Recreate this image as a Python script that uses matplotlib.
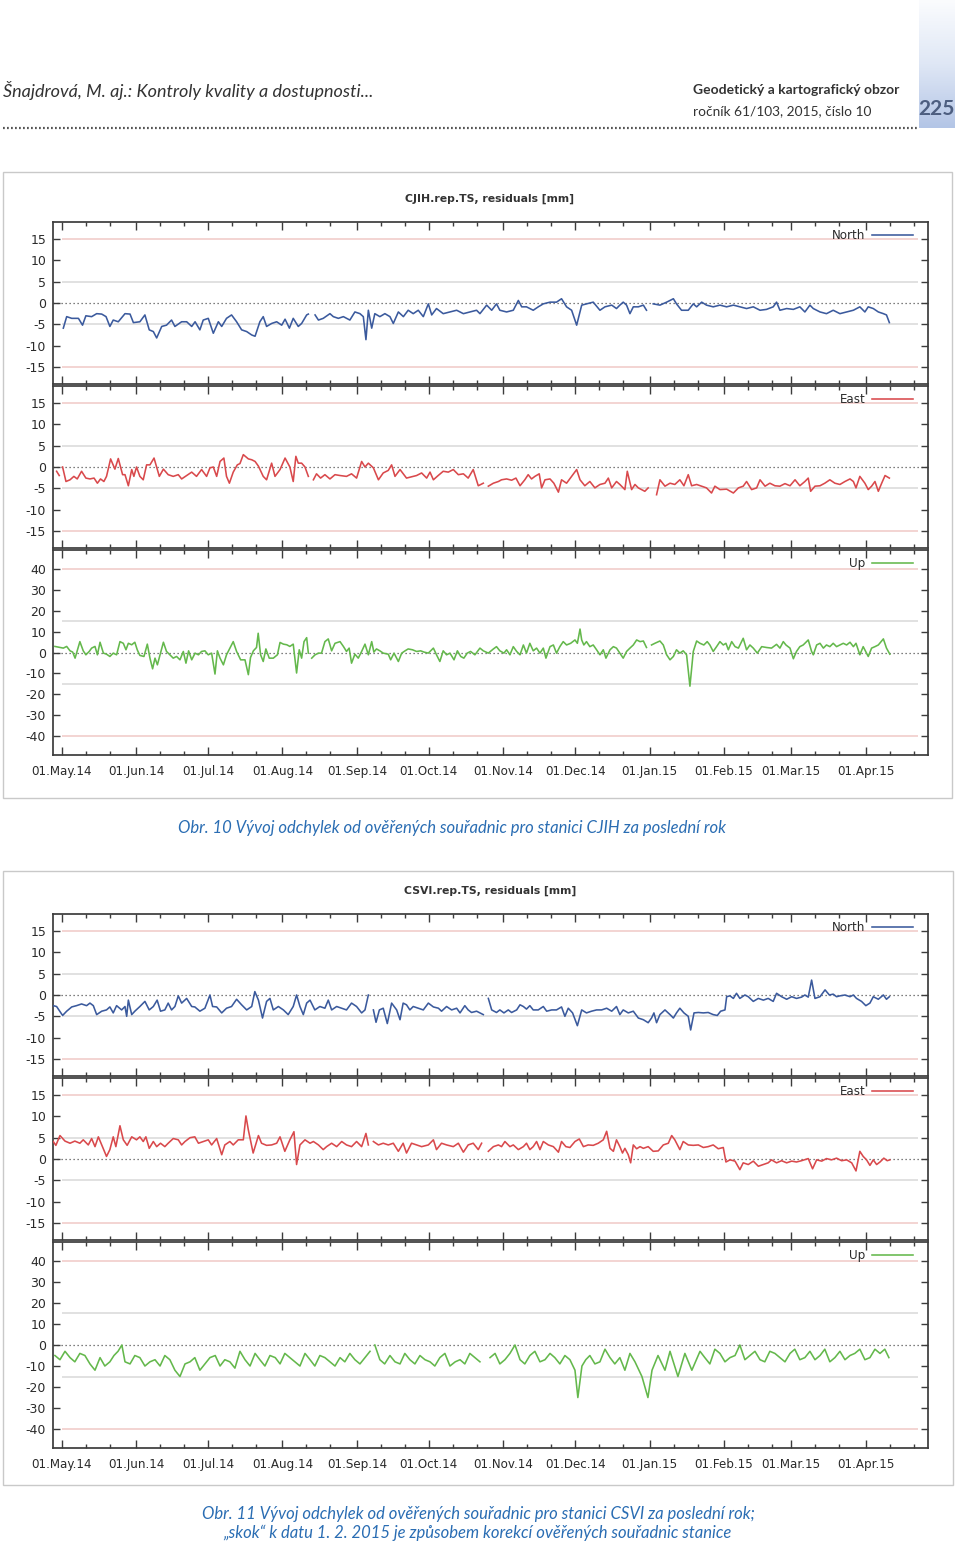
import numpy as np
import matplotlib
matplotlib.use("Agg")
import matplotlib.pyplot as plt
from matplotlib.patches import Rectangle
from matplotlib.lines import Line2D
from datetime import date

plt.rcParams["font.family"] = ["DejaVu Sans"]
plt.rcParams["axes.unicode_minus"] = False
nan = np.nan

# ---------------- data (day offset from 01.May.2014, residual in mm) ----------------
month_labels = ["01.May.14", "01.Jun.14", "01.Jul.14", "01.Aug.14", "01.Sep.14", "01.Oct.14",
                "01.Nov.14", "01.Dec.14", "01.Jan.15", "01.Feb.15", "01.Mar.15", "01.Apr.15"]

cjih_n_day = [0.7, 2.1, 4.2, 7.0, 8.7, 10.1, 12.5, 14.6, 16.7, 18.5,
              20.1, 21.5, 23.6, 26.4, 28.5, 29.9, 32.6, 34.7, 36.5, 38.2,
              39.6, 41.7, 43.7, 45.8, 47.2, 50.0, 52.1, 54.2, 55.6, 57.6,
              59.0, 61.1, 63.2, 65.3, 66.7, 68.7, 70.8, 72.9, 75.0, 77.1,
              79.2, 80.6, 82.6, 84.0, 85.4, 87.5, 89.6, 91.7, 93.1, 94.9,
              96.5, 98.6, 100.0, 102.1, 102.8, 104.2, 105.6, 107.0, 109.0, 111.8,
              113.2, 115.3, 117.4, 120.1, 122.2, 124.3, 125.7, 126.8, 127.8, 129.2,
              130.5, 132.6, 134.7, 136.8, 138.2, 140.3, 142.4, 144.4, 146.5, 148.6,
              150.7, 152.8, 154.2, 156.2, 159.0, 161.8, 164.6, 167.4, 170.1, 172.9,
              174.3, 177.1, 179.2, 181.2, 182.6, 185.4, 188.2, 190.3, 191.7, 193.7,
              196.5, 198.6, 200.7, 203.5, 206.2, 208.3, 210.4, 212.5, 214.6, 216.7,
              218.7, 221.5, 224.3, 226.4, 229.2, 231.2, 232.6, 234.0, 235.4, 236.8,
              238.2, 240.3, 242.4, 243.7, 245.0, 246.5, 249.3, 252.1, 254.9, 256.2,
              258.3, 261.1, 263.2, 264.6, 266.7, 268.7, 271.5, 274.3, 277.1, 279.9,
              282.6, 285.4, 288.2, 291.0, 293.7, 296.5, 297.9, 299.3, 302.1, 304.9,
              307.6, 309.7, 311.8, 313.2, 316.0, 318.7, 321.5, 324.3, 327.1, 329.9,
              332.6, 334.7, 336.1, 338.2, 340.3, 342.4, 343.7, 344.9]
cjih_n_val = [-5.9, -3.2, -3.6, -3.6, -5.2, -3.0, -3.2, -2.5, -2.6, -3.2,
              -5.5, -4.0, -4.4, -2.5, -2.6, -4.6, -4.4, -2.8, -6.3, -6.7,
              -8.2, -5.5, -5.2, -4.0, -5.5, -4.4, -4.4, -5.5, -4.4, -6.3,
              -4.0, -3.6, -7.1, -4.4, -5.5, -3.6, -2.8, -4.4, -6.3, -6.7,
              -7.5, -7.8, -4.4, -3.2, -5.5, -4.8, -4.4, -5.2, -3.8, -5.9,
              -3.6, -5.5, -4.8, -2.8, -2.6, nan, -2.8, -4.0, -3.6, -2.5,
              -3.2, -3.6, -3.2, -4.0, -2.1, -2.5, -3.2, -8.6, -1.7, -5.9,
              -2.5, -3.2, -2.5, -3.2, -4.8, -2.1, -3.2, -1.7, -2.5, -1.7,
              -3.2, -0.2, -2.8, -1.3, -2.5, -2.1, -1.7, -2.5, -2.1, -1.7,
              -2.5, -0.5, -1.7, -0.2, -1.7, -2.1, -1.7, 0.6, -0.9, -0.9,
              -1.7, -0.9, -0.2, 0.2, 0.2, 1.0, -0.9, -1.7, -5.2, -0.5,
              -0.2, 0.2, -1.7, -0.9, -0.5, -1.3, -0.5, 0.2, -0.5, -2.5,
              -0.9, -0.9, -0.5, -1.7, nan, -0.2, -0.5, 0.2, 1.0, -0.2,
              -1.7, -1.7, -0.2, -0.9, 0.2, -0.5, -0.9, -0.5, -0.9, -0.5,
              -0.9, -1.3, -0.9, -1.7, -1.5, -0.9, 0.2, -1.7, -1.3, -1.5,
              -0.9, -2.1, -0.5, -1.3, -2.1, -2.5, -1.7, -2.5, -2.1, -1.7,
              -0.9, -2.1, -0.9, -1.3, -2.1, -2.5, -2.8, -4.6]

cjih_e_day = [-2.1, -1.0, -0.3, 0.4, 1.8, 3.5, 5.1, 6.5, 8.3, 10.1,
              11.8, 13.5, 14.9, 16.2, 17.6, 18.7, 20.4, 22.2, 23.6, 25.4,
              26.4, 27.8, 29.2, 30.1, 31.2, 32.6, 34.0, 35.4, 36.8, 38.5,
              40.7, 42.4, 44.4, 46.5, 48.6, 50.0, 52.1, 54.2, 56.2, 58.3,
              60.4, 61.8, 63.2, 64.6, 66.0, 67.6, 68.7, 69.9, 71.5, 73.2,
              74.3, 75.7, 77.8, 79.2, 80.6, 82.0, 84.0, 85.4, 87.5, 88.9,
              91.0, 93.1, 95.1, 96.5, 97.6, 98.6, 100.0, 101.4, 102.8, 103.8,
              104.9, 106.2, 107.9, 109.7, 111.8, 113.9, 116.0, 118.7, 120.8, 122.9,
              125.0, 126.4, 127.8, 129.9, 132.0, 134.0, 136.1, 137.5, 138.9, 141.0,
              143.7, 145.8, 147.9, 150.0, 152.1, 153.5, 154.9, 156.9, 159.0, 161.1,
              163.2, 165.3, 167.4, 169.4, 171.5, 173.6, 175.7, 176.8, 177.8, 179.9,
              182.0, 183.3, 185.4, 187.5, 189.3, 191.0, 193.0, 194.4, 195.8, 197.2,
              199.0, 200.0, 201.4, 203.5, 205.1, 207.0, 208.3, 210.4, 212.5, 214.6,
              216.0, 218.0, 220.1, 222.2, 224.3, 226.4, 227.8, 229.2, 231.2, 232.6,
              234.7, 235.7, 237.5, 238.9, 240.3, 241.7, 243.0, 244.4, 245.5, 247.9,
              249.3, 251.4, 253.5, 255.5, 257.6, 259.3, 261.1, 262.5, 264.6, 266.7,
              268.7, 270.8, 272.2, 274.3, 277.1, 279.9, 282.0, 284.0, 285.4, 287.5,
              289.6, 291.0, 293.1, 295.1, 297.2, 299.3, 301.4, 303.5, 305.6, 307.6,
              309.7, 311.1, 312.1, 313.9, 316.0, 318.0, 320.1, 322.2, 324.3, 326.4,
              328.5, 329.9, 331.0, 332.6, 334.7, 336.1, 337.5, 338.9, 340.3, 341.7,
              343.1, 344.9]
cjih_e_val = [-1.0, -2.0, nan, 0.0, -3.4, -3.0, -2.2, -2.8, -1.0, -2.6,
              -2.8, -2.6, -3.8, -2.8, -3.4, -2.2, 1.9, -0.5, 2.0, -1.8,
              -1.8, -4.4, -0.6, -2.2, 0.0, -2.2, -3.0, 0.5, 0.5, 2.1,
              -2.2, -0.5, -1.8, -2.2, -1.8, -2.8, -2.0, -1.2, -2.2, -0.6,
              -2.2, -0.2, 0.0, -2.2, 1.3, 2.1, -2.2, -3.8, -1.2, 0.5,
              0.8, 2.9, 1.9, 1.7, 1.3, 0.2, -2.2, -3.0, 0.9, -2.2,
              -0.6, 2.1, 0.0, -3.4, 2.5, 0.9, 0.9, 0.0, -2.2, nan,
              -3.0, -1.6, -2.6, -1.8, -2.8, -1.8, -2.0, -2.2, -1.6, -2.6,
              1.3, 0.0, 0.9, -0.2, -3.0, -1.4, -0.8, 0.5, -2.2, -0.6,
              -2.6, -2.3, -2.0, -1.4, -2.6, -1.2, -3.0, -2.0, -1.0, -1.2,
              -0.6, -1.8, -1.6, -2.6, -0.6, -4.4, -3.8, nan, -4.5, -3.8,
              -3.4, -3.0, -2.8, -3.1, -2.6, -4.4, -3.0, -1.8, -2.8, -2.2,
              -1.6, -4.9, -3.0, -2.8, -3.8, -5.9, -3.0, -3.8, -2.2, -0.6,
              -3.0, -4.4, -3.4, -4.9, -4.1, -3.8, -2.6, -4.9, -3.4, -4.1,
              -5.3, -1.0, -5.3, -4.1, -4.9, -5.3, -5.7, -4.9, nan, -6.5,
              -3.0, -4.5, -3.8, -4.1, -3.0, -4.4, -1.8, -4.4, -4.1, -4.5,
              -4.9, -6.1, -4.5, -5.3, -5.2, -6.1, -4.9, -4.5, -3.4, -5.3,
              -4.9, -3.0, -4.5, -3.8, -4.4, -4.5, -3.9, -4.4, -3.0, -4.4,
              -3.4, -2.6, -5.7, -4.5, -4.4, -3.8, -3.0, -3.8, -4.1, -3.4,
              -2.8, -3.4, -4.9, -2.2, -3.8, -5.3, -4.5, -3.4, -5.7, -3.8,
              -2.0, -2.6]

cjih_u_day = [-2.8, 0.7, 2.1, 3.5, 4.6, 5.6, 6.5, 7.6, 9.0, 10.1,
              11.5, 12.5, 13.9, 14.9, 16.0, 17.4, 18.7, 20.1, 21.5, 22.9,
              24.3, 25.7, 26.8, 27.8, 29.2, 30.5, 31.5, 32.6, 34.3, 35.7,
              36.8, 37.9, 38.9, 39.9, 41.0, 42.4, 43.7, 45.1, 46.5, 47.9,
              49.3, 50.7, 51.8, 52.9, 54.2, 55.6, 57.0, 58.3, 59.7, 61.1,
              62.5, 63.9, 64.9, 66.0, 67.4, 68.7, 70.1, 71.5, 72.9, 74.6,
              76.4, 77.8, 78.7, 79.9, 81.2, 81.9, 82.9, 84.0, 85.1, 86.5,
              88.2, 89.9, 91.0, 92.4, 93.8, 95.1, 96.5, 97.9, 99.0, 100.0,
              101.0, 102.1, 102.8, 103.5, 104.2, 105.6, 107.0, 108.3, 109.7, 111.1,
              112.5, 113.9, 116.0, 117.4, 118.7, 119.8, 120.8, 122.2, 123.6, 125.0,
              126.4, 127.8, 129.2, 130.1, 131.2, 132.6, 134.0, 136.1, 137.1, 138.5,
              140.3, 141.7, 143.1, 144.4, 146.2, 147.9, 149.6, 151.0, 152.8, 154.9,
              156.2, 157.6, 159.0, 160.4, 161.8, 163.5, 164.9, 166.3, 167.6, 169.0,
              170.4, 172.2, 174.3, 175.7, 177.8, 179.9, 181.2, 182.6, 184.3, 185.4,
              186.8, 188.2, 189.6, 191.0, 192.4, 193.7, 195.1, 196.5, 197.9, 199.3,
              200.7, 201.8, 203.5, 204.9, 206.2, 207.6, 209.0, 210.4, 212.1, 213.9,
              214.9, 216.0, 216.7, 217.6, 218.7, 220.1, 221.5, 222.9, 224.3, 225.7,
              226.8, 228.5, 229.9, 231.2, 232.6, 234.0, 235.4, 236.8, 238.2, 239.6,
              241.0, 242.4, 243.7, 244.8, 245.8, 247.2, 249.3, 250.7, 252.1, 253.5,
              254.9, 256.2, 257.6, 259.0, 260.4, 261.8, 263.2, 264.6, 266.0, 267.6,
              269.0, 270.1, 271.5, 272.9, 274.3, 275.7, 276.8, 277.8, 279.2, 280.6,
              282.0, 284.0, 285.4, 286.8, 288.2, 289.9, 291.7, 293.7, 295.8, 297.9,
              299.3, 300.7, 301.8, 303.5, 304.9, 306.2, 307.6, 309.0, 311.1, 312.5,
              313.2, 314.6, 316.0, 317.4, 318.7, 320.1, 321.5, 322.9, 324.3, 325.7,
              327.1, 328.5, 329.9, 331.0, 332.6, 334.0, 336.1, 337.5, 338.9, 340.3,
              342.4, 343.7, 345.1]
cjih_u_val = [2.9, 2.1, 2.9, 0.8, 0.2, -2.7, 0.8, 5.2, 0.8, -1.1,
              0.5, 2.1, 2.9, -1.1, 4.9, -0.3, -0.8, -1.9, -0.3, -1.1,
              5.2, 4.4, 1.3, 4.4, 3.7, 4.9, 1.3, -1.4, -1.9, 4.0,
              -2.7, -7.8, -2.7, -5.9, -1.1, 4.9, 0.5, -1.1, -2.7, -1.9,
              -3.5, 0.5, -5.1, 0.8, -3.5, -0.3, -1.1, 0.5, 0.8, -1.1,
              -0.3, -10.3, 0.8, -2.7, -5.9, -1.1, 2.1, 5.2, 0.5, -3.5,
              -3.5, -10.6, -2.4, 0.8, 2.4, 9.2, -1.1, -4.3, 1.7, -2.7,
              -2.7, -1.1, 4.8, 4.0, 3.7, 2.9, 4.0, -9.8, 1.3, -2.7,
              5.2, 7.1, -0.3, nan, -2.7, -1.1, -0.3, -0.3, 5.2, 6.5,
              0.8, 4.4, 5.2, 2.9, 0.5, 2.1, -5.1, -0.8, -2.7, 0.5,
              4.0, -1.1, 5.2, 0.2, 1.7, 0.8, -0.3, -0.8, -3.5, -0.3,
              -4.3, -0.3, 0.8, 1.7, 1.3, 0.5, 0.8, 0.2, -0.3, 2.1,
              -1.1, -4.3, 0.8, -1.1, -0.3, -3.5, 0.8, -1.9, -2.7, -0.3,
              0.5, -1.1, 2.1, 0.8, -0.3, 1.7, 2.8, 0.8, -0.3, 1.3,
              -1.1, 2.8, 0.5, -1.1, 3.6, -0.3, 4.4, 0.8, 2.1, -0.3,
              2.1, -2.7, 2.8, 3.6, -0.3, 2.8, 5.2, 3.6, 4.4, 6.0,
              4.4, 11.2, 6.0, 3.6, 5.2, 2.8, 3.6, 1.3, -1.1, 1.3,
              -2.7, 1.3, 2.8, 2.1, -0.3, -2.7, 0.5, 2.1, 3.6, 6.0,
              5.2, 5.5, 2.4, nan, 3.6, 4.4, 5.5, 3.6, -1.1, -3.5,
              -1.9, 1.3, -0.3, 0.8, -1.1, -16.1, 0.5, 5.5, 4.4, 3.6,
              5.2, 3.6, 0.5, 2.8, 5.2, 3.6, 4.4, 1.3, 5.2, 2.8,
              2.1, 6.8, 1.3, 3.6, 2.1, -0.3, 2.8, 2.4, 2.1, 3.9,
              2.1, 5.2, 3.6, 2.1, -3.0, 0.5, 2.8, 3.6, 6.0, 0.5,
              -1.1, 3.6, 4.4, 2.1, 3.6, 2.8, 4.4, 2.8, 3.6, 4.4,
              3.6, 4.9, 2.8, 4.4, -1.1, 2.8, -1.9, 2.1, 2.8, 3.6,
              6.5, 2.1, -0.8]

csvi_n_day = [-3.5, -2.1, 0.4, 2.1, 4.2, 6.2, 8.3, 10.4, 11.8, 13.2,
              14.6, 16.7, 18.7, 20.1, 21.5, 22.9, 25.0, 26.4, 27.1, 27.8,
              29.2, 30.5, 32.6, 34.7, 36.5, 38.2, 39.8, 41.2, 43.0, 44.4,
              45.8, 47.2, 48.6, 50.0, 52.1, 54.2, 55.5, 57.6, 59.7, 61.8,
              62.9, 64.6, 66.7, 68.7, 70.8, 72.9, 75.0, 77.1, 79.2, 80.5,
              82.0, 83.7, 85.4, 86.8, 88.2, 90.3, 92.4, 94.4, 96.5, 97.9,
              99.3, 100.7, 102.1, 103.5, 105.5, 107.6, 109.7, 111.1, 112.5, 114.6,
              116.7, 118.7, 120.8, 122.9, 125.0, 126.4, 127.8, 128.9, 129.9, 131.0,
              132.4, 134.0, 135.7, 137.5, 139.6, 141.0, 142.3, 143.7, 145.1, 146.5,
              148.6, 150.7, 152.8, 154.9, 157.0, 158.3, 160.4, 162.5, 164.6, 166.0,
              168.0, 169.4, 170.8, 172.9, 175.7, 176.7, 177.8, 179.2, 181.2, 182.6,
              184.3, 186.1, 187.5, 189.6, 191.0, 192.4, 193.7, 195.1, 196.5, 198.6,
              200.7, 202.1, 204.2, 206.2, 208.3, 209.7, 211.1, 212.9, 214.9, 216.7,
              218.7, 220.8, 222.9, 225.0, 227.1, 229.2, 231.2, 232.6, 234.0, 236.1,
              238.2, 240.3, 242.4, 244.4, 245.8, 246.8, 247.9, 249.3, 251.4, 253.5,
              254.9, 256.2, 257.6, 259.3, 261.1, 262.1, 263.5, 265.3, 267.4, 269.4,
              271.5, 273.2, 274.6, 276.4, 277.1, 278.5, 279.9, 281.2, 282.6, 284.7,
              286.1, 288.2, 290.3, 292.4, 294.4, 296.5, 297.9, 300.0, 302.1, 304.2,
              306.2, 308.3, 309.7, 311.1, 312.5, 313.9, 316.0, 318.1, 319.9, 321.5,
              322.9, 324.3, 326.4, 328.5, 329.9, 331.2, 333.3, 335.1, 336.8, 338.2,
              340.3, 342.4, 343.7, 344.9]
csvi_n_val = [-2.5, -2.7, -4.8, -3.8, -2.8, -2.5, -2.1, -2.5, -1.9, -2.5,
              -4.6, -3.8, -3.5, -2.8, -4.2, -2.5, -3.5, -2.7, -5.0, -1.2,
              -4.6, -3.8, -2.7, -1.5, -3.5, -2.7, -1.2, -3.8, -3.5, -1.9,
              -3.5, -2.7, -0.2, -1.9, -0.8, -2.7, -2.8, -3.8, -3.1, 0.0,
              -2.7, -2.8, -4.2, -3.1, -2.7, -1.0, -2.3, -3.5, -2.7, 0.8,
              -1.2, -5.4, -1.5, -0.8, -3.5, -2.7, -3.5, -4.6, -2.7, 0.0,
              -2.7, -4.6, -1.9, -1.2, -3.5, -2.7, -3.1, -1.2, -3.5, -2.7,
              -3.1, -3.5, -1.9, -2.7, -4.2, -3.5, 0.0, nan, -3.5, -6.4,
              -3.5, -3.1, -6.7, -1.9, -3.5, -5.8, -1.9, -2.3, -3.5, -2.7,
              -3.1, -3.5, -1.9, -2.8, -3.1, -3.8, -2.7, -3.5, -3.1, -4.2,
              -2.5, -3.5, -4.1, -3.8, -4.6, nan, -0.8, -3.5, -4.1, -3.5,
              -4.2, -3.5, -4.1, -3.5, -2.3, -2.7, -3.3, -2.5, -3.5, -3.5,
              -2.7, -3.8, -3.5, -3.5, -2.8, -5.0, -3.1, -4.2, -7.2, -3.5,
              -4.2, -3.8, -3.5, -3.5, -3.1, -3.8, -2.7, -4.6, -3.5, -4.2,
              -3.8, -5.4, -5.8, -6.5, -5.4, -4.2, -6.5, -4.6, -3.5, -4.6,
              -5.4, -4.2, -3.1, -4.2, -5.0, -8.2, -4.2, -4.1, -4.2, -4.1,
              -4.6, -4.8, -3.8, -3.5, -0.4, -0.2, -0.8, 0.4, -0.8, 0.0,
              -0.4, -1.5, -0.8, -1.2, -0.8, -1.5, 0.4, -0.4, -1.0, -0.4,
              -0.8, -0.5, 0.0, -0.5, 3.5, -0.8, -0.4, 1.2, 0.0, 0.2,
              -0.4, -0.2, 0.0, -0.4, 0.0, -0.8, -1.5, -2.5, -1.9, -0.4,
              -1.0, 0.0, -1.0, -0.4]

csvi_e_day = [-3.5, -2.4, -0.7, 1.4, 3.5, 5.5, 7.6, 9.0, 11.1, 12.5,
              13.9, 15.3, 16.7, 18.7, 20.1, 21.5, 22.6, 24.3, 25.7, 27.3,
              29.2, 31.2, 32.6, 34.0, 35.1, 36.5, 38.2, 39.6, 41.2, 43.0,
              44.4, 46.5, 48.6, 50.0, 51.4, 53.5, 55.5, 57.0, 59.0, 61.1,
              62.5, 64.6, 66.7, 68.0, 70.1, 71.5, 73.6, 75.7, 76.8, 77.8,
              79.8, 82.0, 83.3, 85.4, 87.5, 89.6, 91.0, 93.0, 95.1, 96.8,
              97.9, 99.3, 101.4, 103.5, 104.9, 107.0, 109.0, 110.4, 112.5, 114.6,
              116.7, 118.7, 120.8, 122.9, 125.0, 126.8, 127.8, 128.9, 129.9, 132.0,
              134.0, 136.1, 138.2, 140.3, 142.3, 143.7, 145.8, 147.9, 150.0, 152.8,
              154.9, 156.2, 158.3, 160.4, 163.2, 165.3, 167.4, 169.4, 171.5, 173.6,
              175.0, 176.5, 177.8, 179.9, 182.0, 183.3, 184.7, 186.8, 188.2, 190.3,
              192.4, 193.7, 195.1, 196.5, 197.9, 199.3, 200.7, 202.8, 204.9, 207.0,
              208.3, 210.1, 211.8, 213.9, 215.7, 217.4, 219.4, 221.5, 223.6, 225.7,
              227.1, 228.5, 229.9, 231.2, 232.6, 233.7, 234.7, 236.1, 237.1, 238.2,
              239.6, 241.0, 242.4, 244.4, 246.5, 248.6, 250.7, 252.8, 254.2, 255.5,
              257.6, 259.0, 261.1, 263.2, 265.3, 267.4, 269.4, 271.5, 273.6, 275.7,
              276.8, 278.5, 280.6, 282.6, 284.0, 286.1, 288.2, 290.3, 292.4, 294.4,
              295.8, 297.9, 300.0, 302.1, 304.2, 306.2, 308.3, 311.1, 312.9, 314.6,
              316.7, 318.7, 320.8, 322.9, 325.0, 327.1, 329.2, 331.0, 332.6, 334.0,
              335.4, 336.8, 338.2, 339.6, 341.0, 342.6, 344.0, 345.1]
csvi_e_val = [4.1, 3.2, 5.5, 4.2, 3.7, 4.2, 3.7, 4.5, 3.3, 4.8,
              2.9, 5.2, 3.3, 0.6, 2.2, 5.2, 2.9, 7.8, 4.5, 3.2,
              5.2, 4.5, 5.2, 4.1, 5.2, 2.5, 4.1, 2.9, 3.7, 2.9,
              3.7, 4.8, 4.5, 3.3, 4.1, 5.0, 5.2, 3.7, 4.1, 4.5,
              3.3, 4.8, 1.0, 3.3, 4.1, 3.3, 4.5, 4.5, 10.1, 6.8,
              1.4, 5.5, 3.7, 3.2, 3.3, 3.7, 5.2, 1.8, 4.5, 6.4,
              -1.3, 3.3, 4.5, 3.7, 4.1, 3.3, 2.2, 2.9, 3.7, 2.9,
              4.1, 3.3, 2.9, 4.1, 2.9, 6.0, 3.3, nan, 4.1, 3.3,
              3.7, 3.3, 3.7, 1.8, 3.7, 1.4, 3.7, 3.3, 2.9, 3.3,
              4.5, 2.2, 3.7, 3.3, 2.9, 3.7, 1.6, 3.3, 3.7, 2.2,
              3.7, nan, 1.8, 2.9, 3.3, 2.9, 4.1, 2.9, 3.3, 2.2,
              2.9, 3.7, 2.2, 2.9, 4.1, 2.2, 4.1, 3.3, 2.9, 1.6,
              4.1, 2.9, 2.7, 4.1, 4.7, 2.9, 3.3, 3.2, 3.7, 4.5,
              6.5, 2.5, 1.8, 4.5, 2.9, 1.4, 2.5, 1.0, -0.9, 3.3,
              2.4, 2.9, 2.5, 2.9, 1.8, 1.9, 3.3, 3.7, 5.5, 4.5,
              2.2, 4.1, 3.3, 3.2, 3.3, 2.7, 2.9, 3.3, 2.4, 2.7,
              -0.7, -0.2, -0.5, -2.5, -0.9, -1.3, -0.5, -1.7, -1.3, -0.9,
              -0.2, -0.9, -0.4, -0.9, -0.5, -0.7, -0.4, 0.1, -2.3, -0.2,
              -0.5, 0.1, -0.2, 0.2, -0.4, -0.2, -0.9, -2.8, 1.8, 0.6,
              -0.2, -1.5, -0.2, -1.3, -0.7, 0.2, -0.4, -0.2]

csvi_u_day = [-2.8, -0.7, 1.4, 3.5, 5.5, 7.6, 9.7, 11.8, 13.9, 16.0,
              18.0, 20.1, 21.8, 23.5, 25.1, 26.4, 28.5, 30.5, 32.6, 34.7,
              36.8, 38.9, 41.0, 43.0, 45.1, 47.2, 49.3, 51.4, 53.5, 55.5,
              57.6, 59.7, 61.8, 64.0, 66.0, 68.0, 70.1, 72.2, 74.3, 76.4,
              78.5, 80.6, 82.6, 84.7, 86.8, 89.0, 91.0, 93.0, 95.1, 97.2,
              99.3, 101.4, 103.5, 105.5, 107.6, 109.7, 111.8, 113.9, 116.0, 118.0,
              120.1, 122.2, 124.3, 126.4, 128.5, 129.3, 130.5, 132.6, 134.6, 136.8,
              138.9, 141.0, 143.0, 145.1, 147.2, 149.3, 151.4, 153.5, 155.5, 157.6,
              159.7, 161.8, 164.0, 166.0, 168.0, 170.1, 172.2, 174.3, 176.5, 178.5,
              180.6, 182.6, 184.7, 186.8, 188.9, 191.0, 193.0, 195.1, 197.2, 199.3,
              201.4, 203.5, 205.5, 207.6, 209.7, 211.8, 213.9, 215.1, 216.8, 218.4,
              220.1, 222.2, 224.3, 226.4, 228.5, 230.5, 232.6, 234.7, 236.8, 238.9,
              241.8, 244.3, 246.0, 248.5, 251.4, 253.5, 256.8, 259.7, 262.6, 266.0,
              268.0, 270.1, 272.2, 274.3, 276.4, 278.5, 280.6, 282.6, 284.7, 286.8,
              288.9, 291.0, 293.0, 295.1, 297.2, 299.3, 301.4, 303.5, 305.5, 307.6,
              309.7, 311.8, 313.9, 316.0, 318.0, 320.1, 322.2, 324.3, 326.4, 328.5,
              330.5, 332.6, 334.7, 336.8, 338.9, 341.0, 343.0, 344.7]
csvi_u_val = [-5, -7, -3, -6, -8, -4, -5, -9, -12, -6,
              -10, -8, -5, -3, 0, -8, -9, -5, -6, -10,
              -8, -7, -10, -5, -7, -12, -15, -9, -8, -6,
              -12, -9, -6, -5, -10, -7, -8, -11, -3, -7,
              -10, -4, -7, -10, -5, -6, -9, -4, -6, -8,
              -10, -4, -7, -10, -5, -6, -8, -10, -6, -8,
              -4, -7, -9, -6, -3, nan, 0, -7, -9, -5,
              -8, -9, -4, -7, -9, -5, -7, -8, -10, -6,
              -4, -10, -8, -7, -9, -4, -6, -8, nan, -6,
              -4, -9, -7, -4, 0, -7, -9, -5, -3, -8,
              -7, -4, -6, -9, -5, -7, -12, -25, -10, -7,
              -5, -9, -8, -2, -6, -9, -6, -12, -4, -8,
              -15, -25, -12, -5, -12, -3, -15, -4, -12, -3,
              -6, -9, -2, -4, -8, -6, -5, 0, -7, -5,
              -3, -7, -8, -3, -4, -6, -8, -4, -2, -7,
              -6, -3, -7, -5, -2, -8, -6, -3, -7, -5,
              -4, -2, -7, -6, -2, -4, -2, -6]

# ---------------- helpers ----------------
W, H = 960, 1546
fig = plt.figure(figsize=(W / 100, H / 100), dpi=100)
fig.patch.set_facecolor("white")

PUB = ["Lato", "DejaVu Sans"]
TXT = "#2a2a2a"
SPINE = "#3c3c3c"
C_N, C_E, C_U = "#3b5a9d", "#d9494c", "#64b84c"


def fx(x):
    return x / W


def fy(y):
    return 1 - y / H


base = date(2014, 5, 1)
month_starts = [date(2014, m, 1) for m in range(5, 13)] + [date(2015, m, 1) for m in range(1, 5)]
major_days = [(d - base).days for d in month_starts]
minor_days = [(date(d.year, d.month, k) - base).days for d in month_starts for k in (11, 21)]
XMIN, XMAX = -3.6, 361.0
REF_END = 357


def make_axes(top, bottom):
    return fig.add_axes([fx(53), fy(bottom), fx(928) - fx(53), (bottom - top) / H])


def style(ax, lim, ticks, gray_lvl, pink_lvl, show_x):
    ax.set_xlim(XMIN, XMAX)
    ax.set_ylim(-lim, lim)
    ax.set_yticks(ticks)
    ax.set_xticks(major_days)
    ax.set_xticks(minor_days, minor=True)
    ax.tick_params(axis="both", which="both", direction="in", top=True, right=True,
                   color=SPINE, width=1.0)
    ax.tick_params(axis="x", which="major", length=5.5)
    ax.tick_params(axis="x", which="minor", length=3.0)
    ax.tick_params(axis="y", length=5, labelsize=9, pad=5, labelcolor=TXT)
    if show_x:
        ax.set_xticklabels(month_labels)
        ax.tick_params(axis="x", which="major", labelsize=8.6, pad=7, labelcolor=TXT)
    else:
        ax.set_xticklabels([])
    for s in ax.spines.values():
        s.set_color(SPINE)
        s.set_linewidth(1.25)
    ax.hlines([pink_lvl, -pink_lvl], 0, REF_END, color="#f0c9c6", lw=1.1, zorder=1)
    ax.hlines([gray_lvl, -gray_lvl], 0, REF_END, color="#d8d8d8", lw=1.1, zorder=1)
    ax.axhline(0, color="#555555", lw=0.9, ls=(0, (1, 2.2)), zorder=1)
    h_px = ax.get_position().height * H
    leg = ax.legend(loc="upper right", bbox_to_anchor=(1 - 15 / 875, 1 - 7 / h_px),
                    frameon=False, markerfirst=False, fontsize=8.6, handlelength=3.4,
                    handletextpad=0.6, borderpad=0, borderaxespad=0)
    for t in leg.get_texts():
        t.set_color(TXT)


def draw_chart(title, title_y, tops, data):
    fig.text(fx(490), fy(title_y), title, ha="center", va="center", fontsize=7.8,
             color="#333333", fontweight="semibold")
    specs = [(19, [-15, -10, -5, 0, 5, 10, 15], 5, 15, "North", C_N),
             (19, [-15, -10, -5, 0, 5, 10, 15], 5, 15, "East", C_E),
             (49, [-40, -30, -20, -10, 0, 10, 20, 30, 40], 15, 40, "Up", C_U)]
    for i, ((top, bottom), spec, (dd, vv)) in enumerate(zip(tops, specs, data)):
        ax = make_axes(top, bottom)
        lim, ticks, g, p, label, color = spec
        ax.plot(dd, vv, color=color, lw=1.15, label=label, zorder=3)
        style(ax, lim, ticks, g, p, show_x=(i == 2))


# ---------------- header ----------------
fig.text(fx(3), fy(90), "Šnajdrová, M. aj.: Kontroly kvality a dostupnosti...", ha="left",
         va="center", fontsize=13, style="italic", color="#333333", family=PUB)
fig.text(fx(693), fy(90), "Geodetický a kartografický obzor", ha="left", va="center",
         fontsize=10, fontweight="bold", color="#333333", family=PUB)
fig.text(fx(693), fy(111), "ročník 61/103, 2015, číslo 10", ha="left", va="center",
         fontsize=9.9, color="#333333", family=PUB)

tab = fig.add_axes([fx(919), fy(128), fx(955) - fx(919), 128 / H])
grad = np.linspace(0, 1, 256).reshape(-1, 1)
tab.imshow(grad, aspect="auto", cmap=matplotlib.colors.LinearSegmentedColormap.from_list(
    "tab", ["#fbfcfe", "#dfe7f5", "#b3c5e6"]), extent=[0, 1, 1, 0])
tab.axis("off")
fig.text(fx(936), fy(109), "225", ha="center", va="center", fontsize=15,
         fontweight="bold", color="#4d5e80", family=PUB)

fig.add_artist(Line2D([fx(3), fx(917)], [fy(128), fy(128)], color="#555555", lw=1.6,
                      ls=(0, (0.8, 1.0)), transform=fig.transFigure))

# ---------------- chart panels ----------------
for (x0, y0, x1, y1) in [(3, 172, 952, 798), (3, 871, 953, 1485)]:
    fig.add_artist(Rectangle((fx(x0), fy(y1)), fx(x1) - fx(x0), (y1 - y0) / H, fill=False,
                             edgecolor="#c9c9c9", lw=1.0, transform=fig.transFigure))

draw_chart("CJIH.rep.TS, residuals [mm]", 199,
           [(222, 384), (386, 548), (550, 755)],
           [(cjih_n_day, cjih_n_val), (cjih_e_day, cjih_e_val), (cjih_u_day, cjih_u_val)])
draw_chart("CSVI.rep.TS, residuals [mm]", 891,
           [(914, 1076), (1078, 1240), (1242, 1448)],
           [(csvi_n_day, csvi_n_val), (csvi_e_day, csvi_e_val), (csvi_u_day, csvi_u_val)])

# ---------------- captions ----------------
CAP = "#2a6db3"
fig.text(fx(452), fy(828), "Obr. 10 Vývoj odchylek od ověřených souřadnic pro stanici CJIH za poslední rok",
         ha="center", va="center", fontsize=12, style="italic", color=CAP, family=PUB)
fig.text(fx(478), fy(1514), "Obr. 11 Vývoj odchylek od ověřených souřadnic pro stanici CSVI za poslední rok;",
         ha="center", va="center", fontsize=12, style="italic", color=CAP, family=PUB)
fig.text(fx(477), fy(1533), "„skok“ k datu 1. 2. 2015 je způsobem korekcí ověřených souřadnic stanice",
         ha="center", va="center", fontsize=12, style="italic", color=CAP, family=PUB)

fig.savefig("out.png", dpi=100, facecolor="white")
